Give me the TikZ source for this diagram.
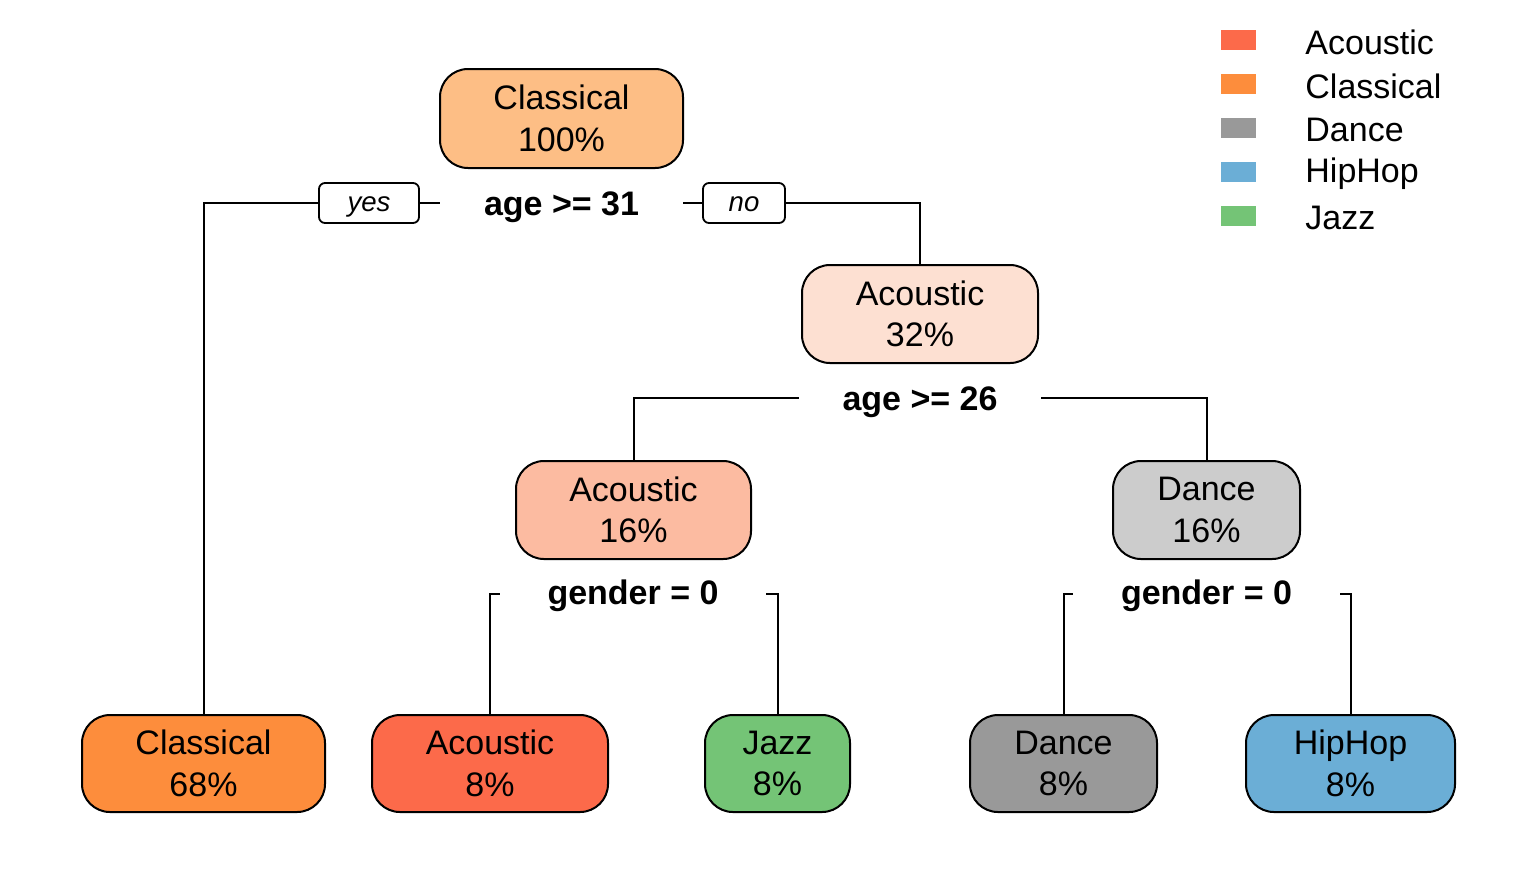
\documentclass[tikz,border=0pt]{standalone}
\usepackage{fontspec}
\setmainfont{Liberation Sans}
\definecolor{cAco}{HTML}{FC6A4A}
\definecolor{cCla}{HTML}{FD8D3C}
\definecolor{cDan}{HTML}{999999}
\definecolor{cHip}{HTML}{6BAED6}
\definecolor{cJaz}{HTML}{74C476}
\definecolor{cRoot}{HTML}{FDBE85}
\definecolor{cA32}{HTML}{FDE0D2}
\definecolor{cA16}{HTML}{FCBBA1}
\definecolor{cD16}{HTML}{CCCCCC}
\tikzset{
  treebox/.style={draw=black, line width=1pt, rounded corners=14pt, inner sep=0pt,
    align=center, font=\fontsize{17}{20.8}\selectfont,
    execute at begin node={\rule{0pt}{16pt}}},
  splitlab/.style={inner sep=0pt, font=\fontsize{17}{19}\selectfont\bfseries,
    text height=12.2pt, text depth=0pt},
  splitlow/.style={splitlab, text height=10.2pt},
  yesno/.style={draw=black, line width=0.9pt, rounded corners=3pt, inner sep=0pt,
    minimum height=20pt, text height=8pt, text depth=0pt,
    font=\fontsize{13.8}{15}\selectfont\itshape},
  edge/.style={draw=black, line width=1pt},
  swatch/.style={inner sep=0pt, minimum width=17.5pt, minimum height=10pt},
  legtext/.style={anchor=west, inner sep=0pt, font=\fontsize{17}{19}\selectfont}
}
\begin{document}
\begin{tikzpicture}[x=0.5pt, y=-0.5pt]
\useasboundingbox (0,0) rectangle (1540,880);
% tree nodes
\node[treebox, fill=cRoot, minimum width=121.5pt, minimum height=49.5pt] (root) at (561.5,118.5) {Classical\\100\%};
\node[treebox, fill=cA32, minimum width=118pt, minimum height=49pt] (a32) at (920,314) {Acoustic\\32\%};
\node[treebox, fill=cA16, minimum width=117.5pt, minimum height=49pt] (a16) at (633.5,510) {Acoustic\\16\%};
\node[treebox, fill=cD16, minimum width=93.5pt, minimum height=49pt] (d16) at (1206.5,510) {Dance\\16\%};
\node[treebox, fill=cCla, minimum width=121.5pt, minimum height=48.5pt] (l1) at (203.5,763.5) {Classical\\68\%};
\node[treebox, fill=cAco, minimum width=118pt, minimum height=48.5pt] (l2) at (490,763.5) {Acoustic\\8\%};
\node[treebox, fill=cJaz, minimum width=72.5pt, minimum height=48.5pt] (l3) at (777.5,763.5) {Jazz\\8\%};
\node[treebox, fill=cDan, minimum width=93.5pt, minimum height=48.5pt] (l4) at (1063.5,763.5) {Dance\\8\%};
\node[treebox, fill=cHip, minimum width=104.5pt, minimum height=48.5pt] (l5) at (1350.5,763.5) {HipHop\\8\%};
% split labels
\node[splitlab, minimum width=121.5pt] (s1) at (561.5,203) {age >= 31};
\node[splitlab, minimum width=121pt] (s2) at (920,398) {age >= 26};
\node[splitlow, minimum width=133pt] (s3) at (633,594) {gender = 0};
\node[splitlow, minimum width=133.5pt] (s4) at (1206.5,594) {gender = 0};
% yes / no
\node[yesno, minimum width=50pt] (yes) at (369,203) {yes};
\node[yesno, minimum width=41pt] (no) at (744,203) {no};
% connectors
\draw[edge] (s1.west) -- (yes.east);
\draw[edge] (yes.west) -| (l1.north);
\draw[edge] (s1.east) -- (no.west);
\draw[edge] (no.east) -| (a32.north);
\draw[edge] (s2.west) -| (a16.north);
\draw[edge] (s2.east) -| (d16.north);
\draw[edge] (s3.west) -| (l2.north);
\draw[edge] (s3.east) -| (l3.north);
\draw[edge] (s4.west) -| (l4.north);
\draw[edge] (s4.east) -| (l5.north);
% legend
\node[swatch, fill=cAco] (k1) at (1238.5,40) {};
\node[swatch, fill=cCla] (k2) at (1238.5,84) {};
\node[swatch, fill=cDan] (k3) at (1238.5,128) {};
\node[swatch, fill=cHip] (k4) at (1238.5,172) {};
\node[swatch, fill=cJaz] (k5) at (1238.5,216) {};
\node[legtext] (t1) at (1305,42) {Acoustic};
\node[legtext] (t2) at (1305,86) {Classical};
\node[legtext] (t3) at (1305,130) {Dance};
\node[legtext] (t4) at (1305,174) {HipHop};
\node[legtext] (t5) at (1305,218) {Jazz};
\end{tikzpicture}
\end{document}
